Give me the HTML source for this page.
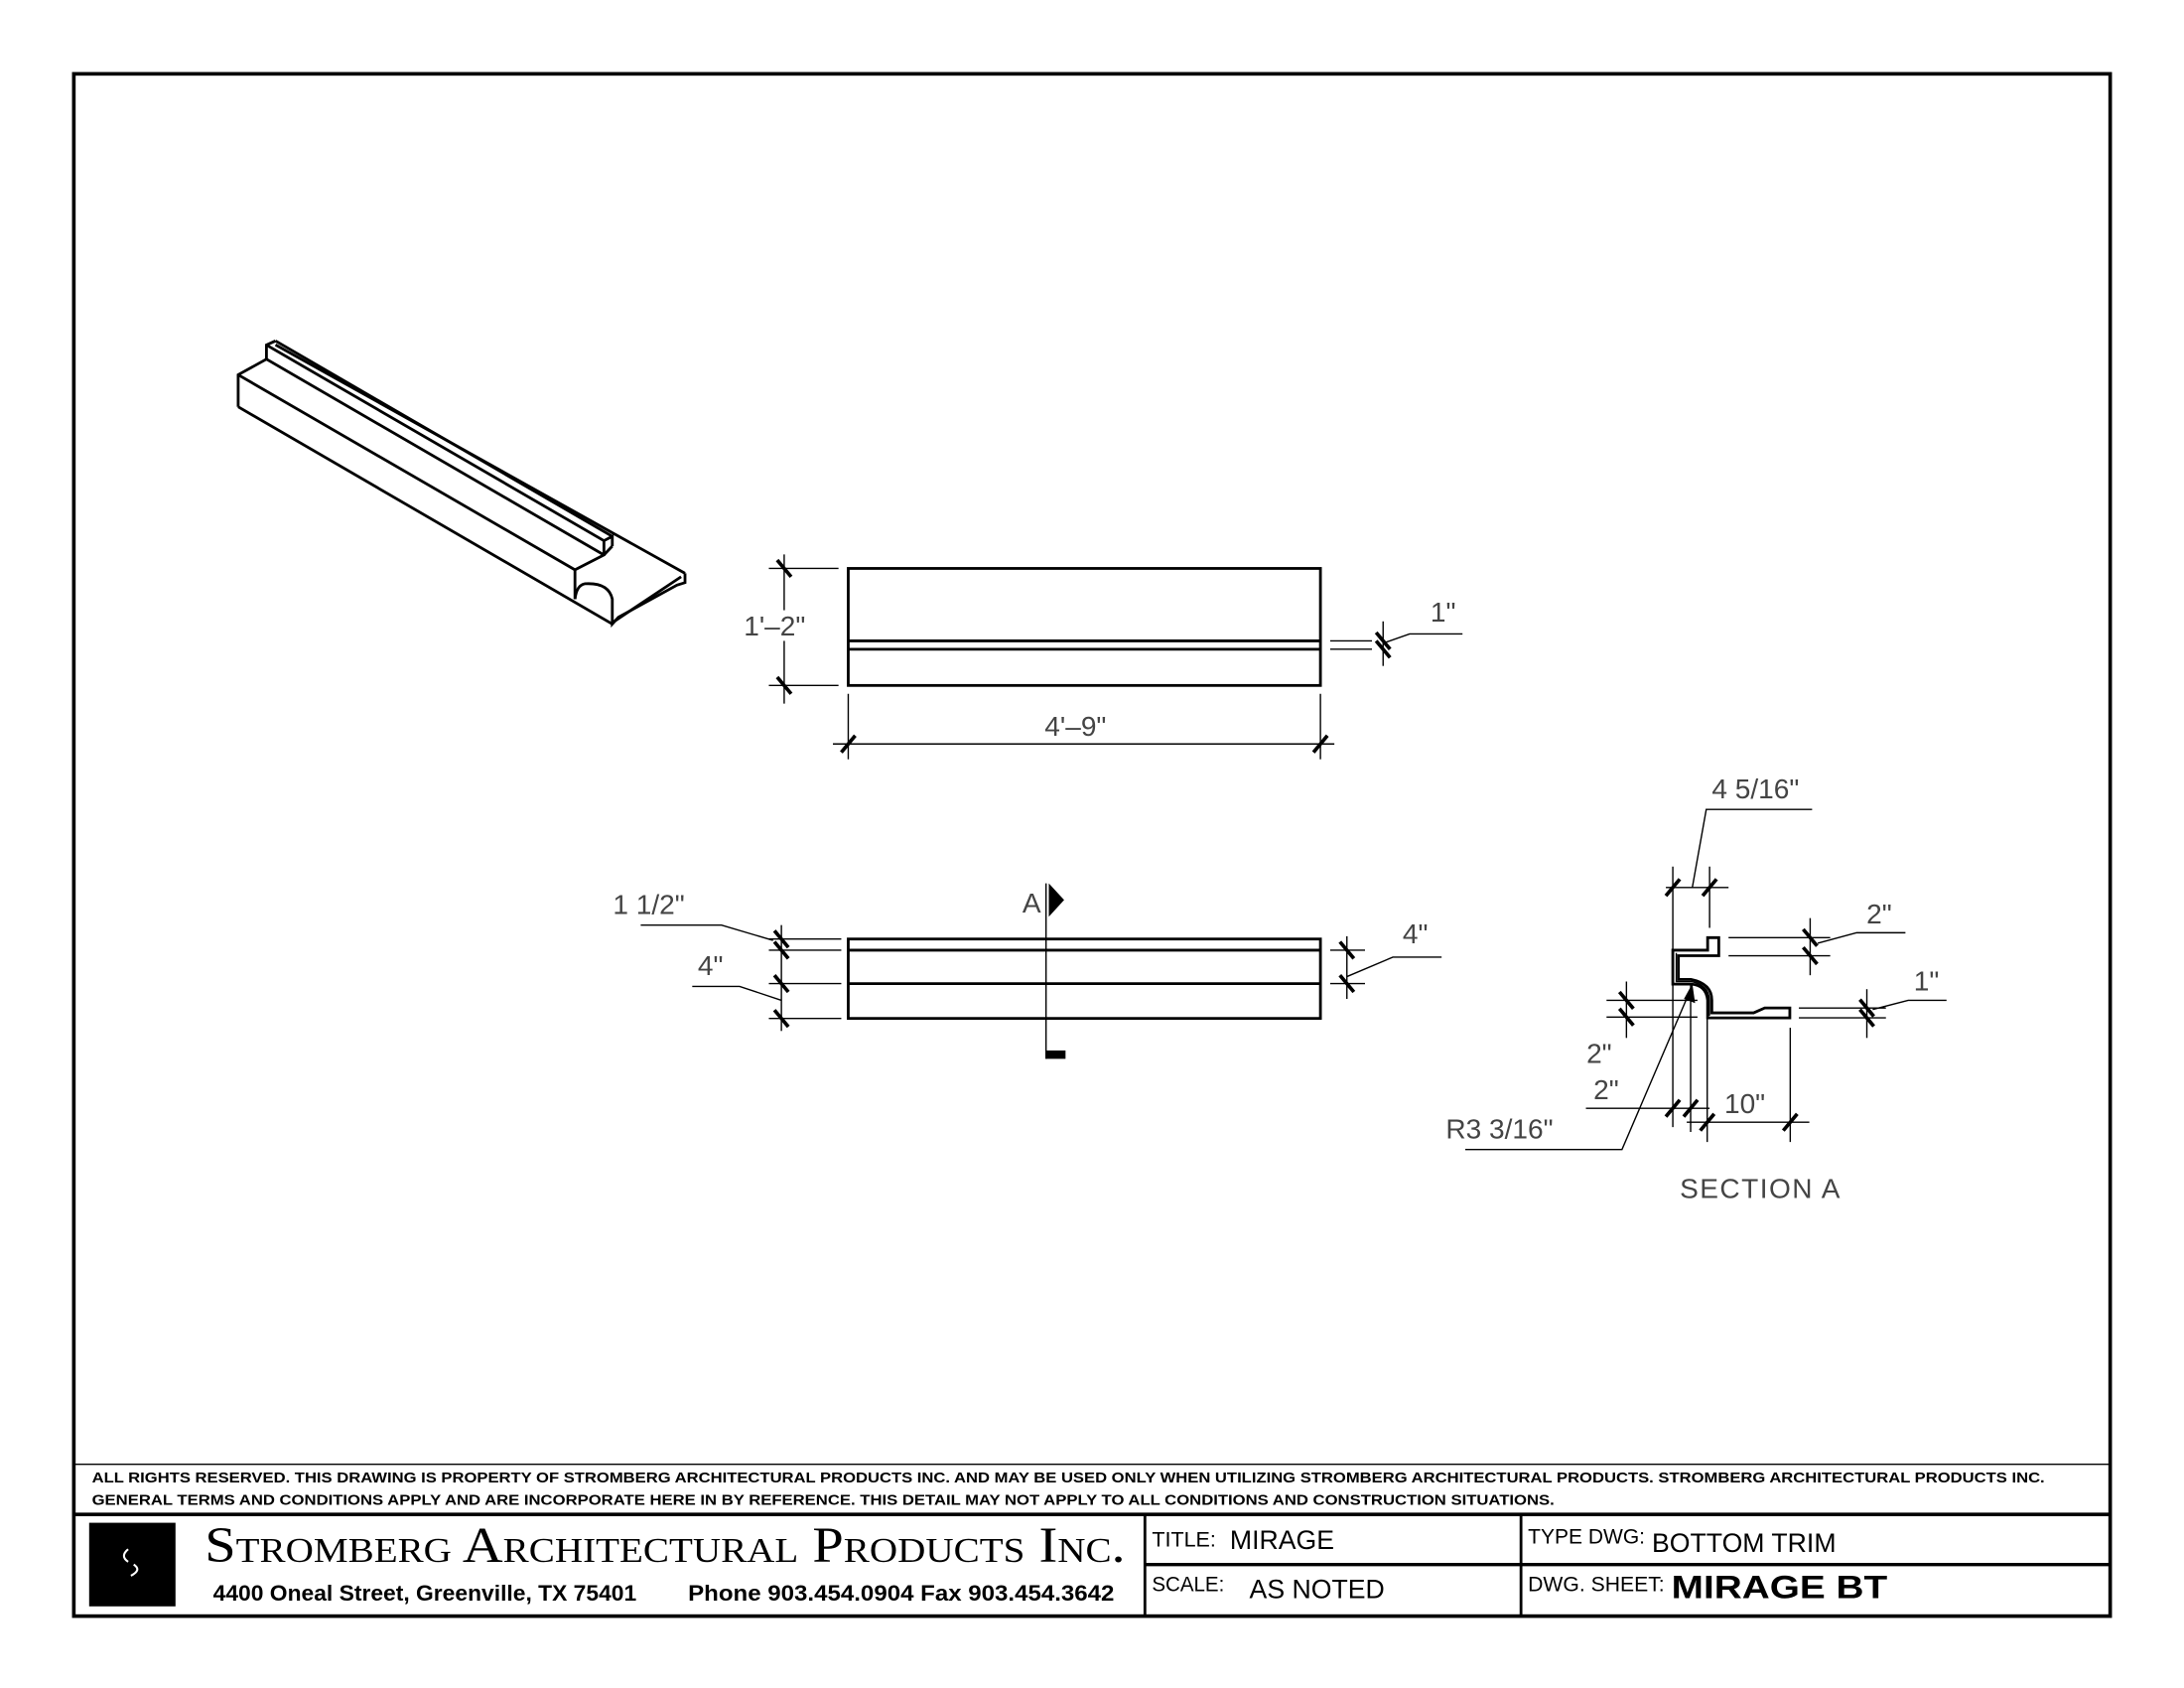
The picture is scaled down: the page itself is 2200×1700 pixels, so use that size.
<!DOCTYPE html>
<html><head><meta charset="utf-8"><style>
html,body{margin:0;padding:0;background:#fff;}
svg{display:block;}
.dim{font-family:"Liberation Sans",sans-serif;font-size:20px;fill:#444;}
.t{stroke:#000;stroke-width:1;fill:none;}
.k{stroke:#000;stroke-width:2;fill:none;}
.tk{stroke:#000;stroke-width:2.6;}
</style></head><body>
<svg width="2200" height="1700" viewBox="0 0 1568 1211.6" preserveAspectRatio="none" xmlns="http://www.w3.org/2000/svg">
<rect x="0" y="0" width="1568" height="1212" fill="#fff"/>
<rect x="53" y="53" width="1462" height="1107" fill="none" stroke="#000" stroke-width="2.6"/>
<line x1="53" y1="1051" x2="1515" y2="1051" class="t"/>
<line x1="53" y1="1087" x2="1515" y2="1087" stroke="#000" stroke-width="2.6"/>
<line x1="822" y1="1087" x2="822" y2="1160" class="k"/>
<line x1="1092" y1="1087" x2="1092" y2="1160" class="k"/>
<line x1="822" y1="1123" x2="1515" y2="1123" stroke="#000" stroke-width="2.4"/>
<text x="66" y="1064" font-family="Liberation Sans,sans-serif" font-weight="bold" font-size="10.5" textLength="1402" lengthAdjust="spacingAndGlyphs">ALL RIGHTS RESERVED. THIS DRAWING IS PROPERTY OF STROMBERG ARCHITECTURAL PRODUCTS INC. AND MAY BE USED ONLY WHEN UTILIZING STROMBERG ARCHITECTURAL PRODUCTS.  STROMBERG ARCHITECTURAL PRODUCTS INC.</text>
<text x="66" y="1080" font-family="Liberation Sans,sans-serif" font-weight="bold" font-size="10.5" textLength="1050" lengthAdjust="spacingAndGlyphs">GENERAL TERMS AND CONDITIONS APPLY AND ARE INCORPORATE HERE IN BY REFERENCE.  THIS DETAIL MAY NOT APPLY TO ALL CONDITIONS AND CONSTRUCTION SITUATIONS.</text>
<rect x="64" y="1093" width="62" height="60" fill="#000"/>
<path d="M92 1112 q-6 5 0 9 M96 1123 q6 4 -2 8" stroke="#fff" stroke-width="1.5" fill="none"/>
<text x="147" y="1121" font-family="Liberation Serif,serif" font-size="36" style="font-variant:small-caps" textLength="661" lengthAdjust="spacingAndGlyphs">Stromberg Architectural Products Inc.</text>
<text x="153" y="1149" font-family="Liberation Sans,sans-serif" font-weight="bold" font-size="16" textLength="304" lengthAdjust="spacingAndGlyphs">4400 Oneal Street, Greenville, TX  75401</text>
<text x="494" y="1149" font-family="Liberation Sans,sans-serif" font-weight="bold" font-size="16" textLength="306" lengthAdjust="spacingAndGlyphs">Phone 903.454.0904   Fax 903.454.3642</text>
<g font-family="Liberation Sans,sans-serif">
<text x="827" y="1110" font-size="15" textLength="46" lengthAdjust="spacingAndGlyphs">TITLE:</text>
<text x="883" y="1112" font-size="19">MIRAGE</text>
<text x="827" y="1142" font-size="15" textLength="52" lengthAdjust="spacingAndGlyphs">SCALE:</text>
<text x="897" y="1147" font-size="19">AS NOTED</text>
<text x="1097" y="1108" font-size="15" textLength="84" lengthAdjust="spacingAndGlyphs">TYPE DWG:</text>
<text x="1186" y="1114" font-size="19">BOTTOM TRIM</text>
<text x="1097" y="1142" font-size="15" textLength="98" lengthAdjust="spacingAndGlyphs">DWG. SHEET:</text>
<text x="1200" y="1147" font-size="23" font-weight="bold" textLength="155" lengthAdjust="spacingAndGlyphs">MIRAGE BT</text>
</g>

<!-- isometric -->
<g class="k" stroke-width="1.6">
<path d="M171 292 L171 269 L191.3 257.8 L191.3 247.6 L197.8 244.7"/>
<line x1="171" y1="292" x2="439.6" y2="447.9"/>
<line x1="171" y1="269" x2="412.8" y2="409"/>
<line x1="191.3" y1="257.8" x2="433.6" y2="398.3"/>
<line x1="191.3" y1="247.6" x2="433.6" y2="388.1"/>
<line x1="197.8" y1="244.7" x2="439.6" y2="385"/>
<line x1="197.8" y1="247.5" x2="491.8" y2="411.5"/>
<path d="M412.8 430 L412.8 409 L433.6 398.3 L433.6 388.1 L439.6 385 L439.6 392"/>
<path d="M412.8 430 Q414 420 420 419 Q437 418 439.6 430 L439.6 447.9 L444 443 L486 420 L491.8 418.2 L491.8 411.5"/>
<line x1="439.6" y1="392" x2="433.6" y2="398.3"/>
<line x1="441" y1="446" x2="489" y2="414"/>
</g>

<!-- front view -->
<rect x="609" y="408" width="339" height="84" fill="none" stroke="#000" stroke-width="2"/>
<line x1="609" y1="460" x2="948" y2="460" class="k"/>
<line x1="609" y1="466" x2="948" y2="466" class="k"/>
<g class="t">
<line x1="552" y1="408" x2="602" y2="408"/><line x1="552" y1="492" x2="602" y2="492"/>
<line x1="563" y1="398" x2="563" y2="505"/>
<line x1="609" y1="498" x2="609" y2="545"/><line x1="948" y1="498" x2="948" y2="545"/>
<line x1="598" y1="534" x2="958" y2="534"/>
<line x1="955" y1="460" x2="985" y2="460"/><line x1="955" y1="466" x2="985" y2="466"/>
<line x1="993" y1="446" x2="993" y2="478"/>
<path d="M995 461 L1012 455 L1050 455"/>
</g>
<g class="tk">
<line x1="558" y1="402" x2="568" y2="414"/><line x1="558" y1="486" x2="568" y2="498"/>
<line x1="604" y1="540" x2="614" y2="528"/><line x1="943" y1="540" x2="953" y2="528"/>
<line x1="988" y1="454" x2="998" y2="466"/><line x1="988" y1="460" x2="998" y2="472"/>
</g>
<rect x="534" y="438" width="60" height="22" fill="#fff"/>
<text class="dim" x="534" y="456">1'–2"</text>
<text class="dim" x="750" y="528">4'–9"</text>
<text class="dim" x="1027" y="446">1"</text>

<!-- plan view -->
<rect x="609" y="674" width="339" height="57" fill="none" stroke="#000" stroke-width="2"/>
<line x1="609" y1="682" x2="948" y2="682" class="k"/>
<line x1="609" y1="706" x2="948" y2="706" class="k"/>
<line x1="751" y1="634" x2="751" y2="760" class="t"/>
<polygon points="753,634 764,646 753,658" fill="#000"/>
<rect x="751" y="754" width="14" height="6" fill="#000"/>
<text class="dim" x="734" y="655">A</text>
<g class="t">
<line x1="552" y1="674" x2="604" y2="674"/><line x1="552" y1="682" x2="604" y2="682"/>
<line x1="552" y1="706" x2="604" y2="706"/><line x1="552" y1="731" x2="604" y2="731"/>
<line x1="561" y1="664" x2="561" y2="740"/>
<path d="M460 664 L518 664 L555 675"/>
<path d="M497 708 L531 708 L561 718"/>
<line x1="955" y1="682" x2="980" y2="682"/><line x1="955" y1="706" x2="980" y2="706"/>
<line x1="967" y1="672" x2="967" y2="717"/>
<path d="M967 701 L1000 687 L1035 687"/>
</g>
<g class="tk">
<line x1="556" y1="668" x2="566" y2="680"/><line x1="556" y1="676" x2="566" y2="688"/>
<line x1="556" y1="700" x2="566" y2="712"/><line x1="556" y1="725" x2="566" y2="737"/>
<line x1="962" y1="676" x2="972" y2="688"/><line x1="962" y1="700" x2="972" y2="712"/>
</g>
<text class="dim" x="440" y="656">1 1/2"</text>
<text class="dim" x="501" y="700">4"</text>
<text class="dim" x="1007" y="677">4"</text>

<!-- section A -->
<path d="M1201 682 L1226 682 L1226 673 L1234 673 L1234 686 L1205 686 L1205 703 L1214 703 Q1229 706 1229 718 L1229 727 L1259 727 L1267 723.5 L1285 723.5 L1285 730.6 L1226 730.6 L1226 718 Q1225 707 1214 706.4 L1201 706.4 Z" fill="none" stroke="#000" stroke-width="2"/>
<path d="M1203.5 684 L1203.5 704.5 L1214 704.5 Q1227 707 1227.3 718 L1227.3 729" class="t" stroke-width="0.8"/>
<g class="t">
<line x1="1201" y1="622" x2="1201" y2="809"/><line x1="1227.4" y1="622" x2="1227.4" y2="666"/>
<line x1="1196" y1="637" x2="1241" y2="637"/>
<path d="M1215 637 L1225 581 L1301 581"/>
<line x1="1241" y1="673" x2="1314" y2="673"/><line x1="1241" y1="686" x2="1314" y2="686"/>
<line x1="1299.6" y1="659" x2="1299.6" y2="700"/>
<path d="M1305 677 L1333 669.5 L1368 669.5"/>
<line x1="1291.5" y1="723.5" x2="1354" y2="723.5"/><line x1="1291.5" y1="730.6" x2="1354" y2="730.6"/>
<line x1="1340.3" y1="710" x2="1340.3" y2="745"/>
<path d="M1344.5 724.6 L1370 718 L1397.5 718"/>
<line x1="1153.4" y1="718" x2="1218.7" y2="718"/><line x1="1153.4" y1="730" x2="1218.7" y2="730"/>
<line x1="1167.7" y1="704.5" x2="1167.7" y2="745"/>
<line x1="1138.6" y1="795.5" x2="1227.4" y2="795.5"/>
<line x1="1213.8" y1="706" x2="1213.8" y2="812.5"/>
<line x1="1225.7" y1="731" x2="1225.7" y2="819.7"/><line x1="1285.3" y1="737.7" x2="1285.3" y2="819.7"/>
<line x1="1211" y1="805.5" x2="1299" y2="805.5"/>
<path d="M1052 825.1 L1164.5 825.1 L1213 712"/>
</g>
<polygon points="1215,706 1217,720 1209,717" fill="#000"/>
<g class="tk">
<line x1="1196" y1="643" x2="1206" y2="631"/><line x1="1222.4" y1="643" x2="1232.4" y2="631"/>
<line x1="1294.6" y1="667" x2="1304.6" y2="679"/><line x1="1294.6" y1="680" x2="1304.6" y2="692"/>
<line x1="1335.3" y1="717.5" x2="1345.3" y2="729.5"/><line x1="1335.3" y1="724.6" x2="1345.3" y2="736.6"/>
<line x1="1162.7" y1="712" x2="1172.7" y2="724"/><line x1="1162.7" y1="724" x2="1172.7" y2="736"/>
<line x1="1196" y1="801.5" x2="1206" y2="789.5"/><line x1="1208.8" y1="801.5" x2="1218.8" y2="789.5"/>
<line x1="1220.7" y1="811.5" x2="1230.7" y2="799.5"/><line x1="1280.3" y1="811.5" x2="1290.3" y2="799.5"/>
</g>
<text class="dim" x="1229" y="573">4  5/16"</text>
<text class="dim" x="1340" y="663">2"</text>
<text class="dim" x="1374" y="711">1"</text>
<text class="dim" x="1139" y="763">2"</text>
<text class="dim" x="1144" y="789">2"</text>
<text class="dim" x="1238" y="799">10"</text>
<text class="dim" x="1038" y="817">R3  3/16"</text>
<text class="dim" x="1206" y="860" textLength="115" lengthAdjust="spacing">SECTION  A</text>
</svg>
</body></html>
